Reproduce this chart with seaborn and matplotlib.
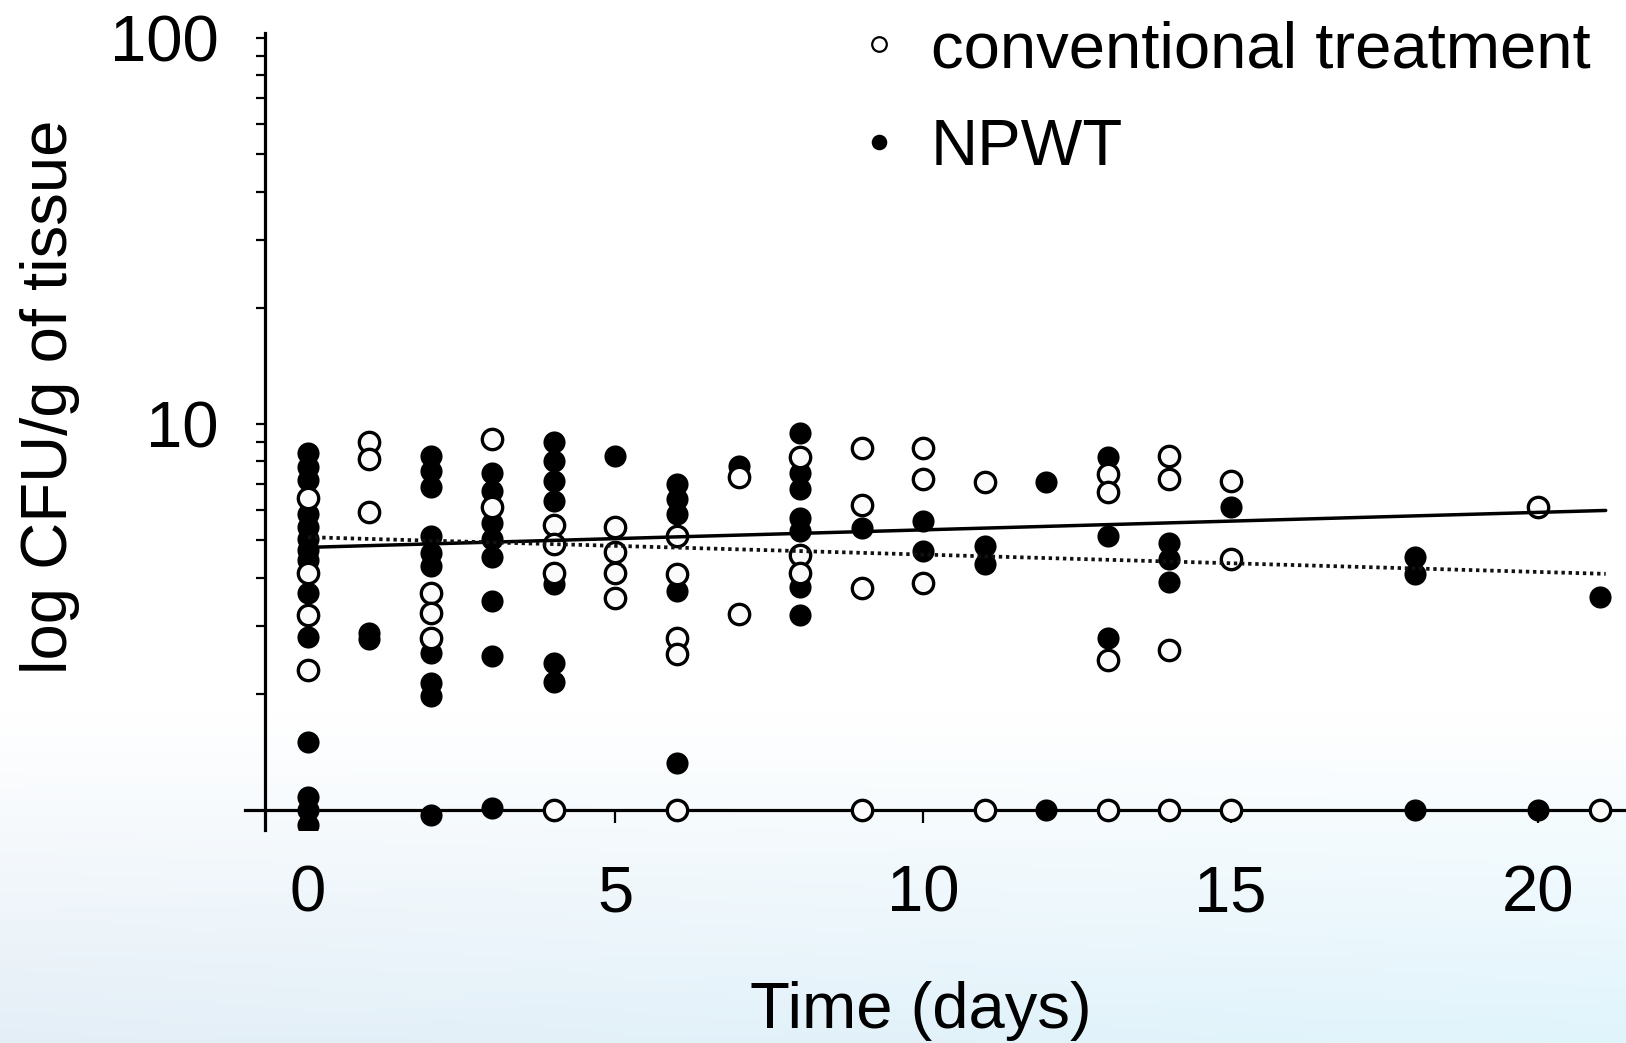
import numpy as np
import pandas as pd
import matplotlib
matplotlib.use("Agg")
import matplotlib.pyplot as plt
import seaborn as sns
from matplotlib.lines import Line2D
from matplotlib.ticker import FixedLocator, NullFormatter

# ---------------- data ----------------
conv_days = [0, 0, 0, 0,
             1, 1, 1,
             2, 2, 2,
             3, 3,
             4, 4, 4, 4,
             5, 5, 5, 5,
             6, 6, 6, 6, 6,
             7, 7,
             8, 8, 8,
             9, 9, 9, 9,
             10, 10, 10,
             11, 11,
             13, 13, 13, 13,
             14, 14, 14, 14,
             15, 15, 15,
             20,
             21]
conv_cfu = [6.44, 4.10, 3.20, 2.30,
            8.96, 8.11, 5.90,
            3.65, 3.24, 2.79,
            9.14, 6.08,
            5.47, 4.90, 4.12, 1.00,
            5.41, 4.66, 4.11, 3.55,
            5.13, 4.08, 2.79, 2.53, 1.00,
            7.27, 3.21,
            8.23, 4.58, 4.10,
            8.65, 6.16, 3.77, 1.00,
            8.65, 7.20, 3.88,
            7.06, 1.00,
            7.41, 6.65, 2.45, 1.00,
            8.27, 7.20, 2.60, 1.00,
            7.13, 4.48, 1.00,
            6.08,
            1.00]

npwt_days = [0, 0, 0, 0, 0, 0, 0, 0, 0, 0, 0, 0, 0, 0,
             1, 1,
             2, 2, 2, 2, 2, 2, 2, 2, 2, 2,
             3, 3, 3, 3, 3, 3, 3, 3,
             4, 4, 4, 4, 4, 4, 4,
             5,
             6, 6, 6, 6, 6,
             7,
             8, 8, 8, 8, 8, 8, 8,
             9,
             10, 10,
             11, 11,
             12, 12,
             13, 13, 13,
             14, 14, 14,
             15,
             18, 18, 18,
             20,
             21]
npwt_cfu = [8.40, 7.75, 7.15, 5.85, 5.40, 5.05, 4.72, 4.45, 3.64, 2.81, 1.50, 1.08, 1.00, 0.915,
            2.88, 2.77,
            8.27, 7.56, 6.85, 5.13, 4.64, 4.29, 2.55, 2.13, 1.97, 0.97,
            7.45, 6.70, 5.54, 5.03, 4.52, 3.48, 2.50, 1.01,
            8.96, 8.03, 7.13, 6.32, 3.84, 2.40, 2.15,
            8.27,
            6.98, 6.38, 5.84, 3.69, 1.32,
            7.80,
            9.50, 7.46, 6.80, 5.71, 5.27, 3.79, 3.20,
            5.39,
            5.61, 4.69,
            4.83, 4.33,
            7.08, 1.00,
            8.19, 5.13, 2.79,
            4.93, 4.46, 3.89,
            6.08,
            4.51, 4.08, 1.00,
            1.00,
            3.57]

fit_days = [0, 21.1]
solid_fit_cfu = [4.79, 5.97]
dotted_fit_cfu = [5.09, 4.09]

x_ticks = [0, 5, 10, 15, 20]
y_major = [10, 100]
y_minor = [2, 3, 4, 5, 6, 7, 8, 9, 20, 30, 40, 50, 60, 70, 80, 90]
legend_labels = ["conventional treatment", "NPWT"]
x_label = "Time (days)"
y_label = "log CFU/g of tissue"

# ---------------- style ----------------
sns.set_theme(style="ticks")
plt.rcParams["font.family"] = ["Liberation Sans", "DejaVu Sans"]
plt.rcParams["text.color"] = "black"
plt.rcParams["axes.labelcolor"] = "black"
plt.rcParams["xtick.color"] = "black"
plt.rcParams["ytick.color"] = "black"
FS = 47

fig = plt.figure(figsize=(16.26, 10.43), dpi=100)
fig.patch.set_facecolor("white")

# pale slide-like gradient at the bottom
bg = fig.add_axes([0, 0, 1, 1], zorder=-10)
H, W = 300, 60
yy = np.linspace(0, 1043, H)[:, None]
xx = np.linspace(0, 1, W)[None, :]
t = np.clip((yy - 715) / (1043 - 715), 0, 1) ** 1.0
left_col = np.array([0.895, 0.935, 0.968])
right_col = np.array([0.880, 0.958, 0.988])
bottom = left_col[None, None, :] * (1 - xx[..., None]) + right_col[None, None, :] * xx[..., None]
img = (1 - t[..., None]) * np.ones(3)[None, None, :] + t[..., None] * bottom
bg.imshow(img, extent=[0, 1, 0, 1], aspect="auto", origin="upper")
bg.set_axis_off()

ax = fig.add_axes([245 / 1626, (1043 - 830) / 1043, (1626 - 245) / 1626, (830 - 33) / 1043])
ax.patch.set_alpha(0)
ax.set_yscale("log")

conv = pd.DataFrame({"day": conv_days, "cfu": conv_cfu})
npwt = pd.DataFrame({"day": npwt_days, "cfu": npwt_cfu})

sns.scatterplot(data=npwt, x="day", y="cfu", ax=ax, s=205, color="black",
                edgecolor="black", linewidth=1.6, zorder=3, legend=False)
sns.scatterplot(data=conv, x="day", y="cfu", ax=ax, s=215, color="#fbfbfb",
                edgecolor="black", linewidth=2.4, zorder=4, legend=False)

fits = pd.DataFrame({"day": fit_days, "solid": solid_fit_cfu, "dotted": dotted_fit_cfu})
sns.lineplot(data=fits, x="day", y="solid", ax=ax, color="black", linewidth=2.5, zorder=5)
sns.lineplot(data=fits, x="day", y="dotted", ax=ax, color="#111111", linewidth=2.7,
             linestyle=(0, (0.9, 1.0)), zorder=5)

ax.set_xlim(-1.024, 21.43)
ax.set_ylim(0.8875, 103.0)

for side in ["top", "right"]:
    ax.spines[side].set_visible(False)
ax.spines["left"].set_position(("data", -0.70))
ax.spines["bottom"].set_position(("data", 1.0))
for side in ["left", "bottom"]:
    ax.spines[side].set_linewidth(2.3)
    ax.spines[side].set_color("black")

ax.set_xticks(x_ticks)
ax.set_xticklabels([str(v) for v in x_ticks])
ax.yaxis.set_major_locator(FixedLocator(y_major))
ax.set_yticklabels([str(v) for v in y_major])
ax.yaxis.set_minor_locator(FixedLocator(y_minor))
ax.yaxis.set_minor_formatter(NullFormatter())
ax.xaxis.set_minor_locator(FixedLocator([]))

ax.tick_params(axis="x", which="major", direction="out", length=9.5, width=1.6,
               labelsize=FS, pad=30, colors="black")
ax.tick_params(axis="y", which="both", direction="out", length=6.5, width=1.6,
               labelsize=FS, pad=27, colors="black")

ax.set_xlabel(x_label, fontsize=FS, va="center", ha="center", color="black")
ax.xaxis.set_label_coords((921 - 245) / (1626 - 245), (830 - 1011) / (830 - 33))
ax.set_ylabel(y_label, fontsize=FS, va="center", ha="center", color="black")
ax.yaxis.set_label_coords((50 - 245) / (1626 - 245), (830 - 397) / (830 - 33))

handles = [
    Line2D([], [], linestyle="none", marker="o", markersize=10.5, markerfacecolor="white",
           markeredgecolor="black", markeredgewidth=1.6),
    Line2D([], [], linestyle="none", marker="o", markersize=10.0, markerfacecolor="black",
           markeredgecolor="black", markeredgewidth=1.2),
]
leg = ax.legend(handles, legend_labels, loc="upper left",
                bbox_to_anchor=(863 / 1626, 1 - 20 / 1043), bbox_transform=fig.transFigure,
                frameon=False, borderpad=0, borderaxespad=0, handlelength=0.5,
                handletextpad=0.54, labelspacing=0.58, fontsize=FS)
for txt in leg.get_texts():
    txt.set_color("black")

fig.savefig("out.png", dpi=100)
